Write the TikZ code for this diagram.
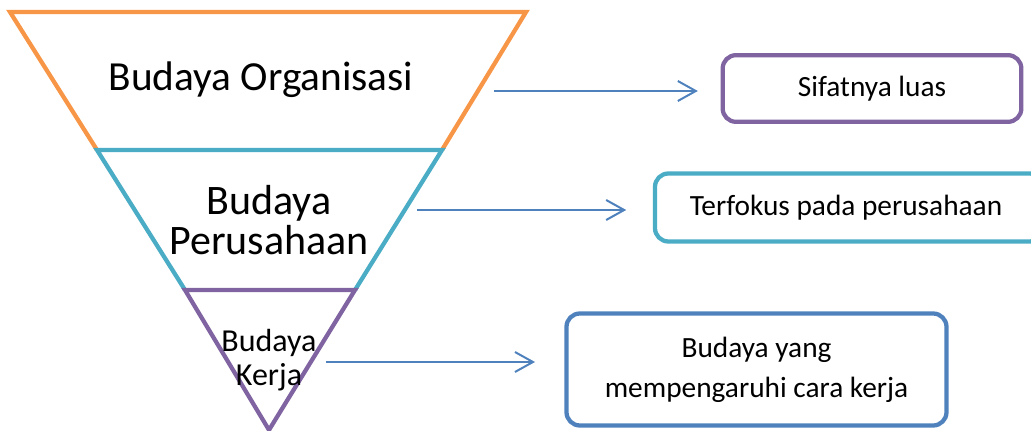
\documentclass[tikz,border=0pt]{standalone}
\usepackage{fontspec}
\setmainfont{Carlito}
\usetikzlibrary{arrows.meta}
\definecolor{oranye}{HTML}{F79646}
\definecolor{tosca}{HTML}{4BACC6}
\definecolor{ungu}{HTML}{8064A2}
\definecolor{biru}{HTML}{4F81BD}
\tikzset{
	tier/.style={line width=3.2pt,line join=miter},
	ket/.style={draw,line width=3.2pt,rounded corners=10pt,align=center},
	panah/.style={biru,line width=1.5pt,-{Straight Barb[length=13.5pt,width=15pt,line width=1.5pt]}}
}
\begin{document}
\begin{tikzpicture}[x=0.75pt,y=-0.75pt]
		\useasboundingbox (0,0) rectangle (1031,431);
		% lapisan piramida terbalik
		\draw[tier,oranye] (97,150) -- (10,12) -- (526,12) -- (442,150);
		\draw[tier,tosca] (185,290) -- (97,150) -- (442,150) -- (355,290);
		\draw[tier,ungu] (185,290) -- (355,290) -- (269,430) -- cycle;
		\node[font=\fontsize{31}{35}\selectfont] (org) at (261,80) {Budaya Organisasi};
		\node[font=\fontsize{31.5}{30}\selectfont,align=center] (prs) at (269,220) {Budaya\\Perusahaan};
		\node[font=\fontsize{24}{26}\selectfont,align=center] (krj) at (269,360) {Budaya\\Kerja};
		% keterangan
		\node[ket,ungu,minimum width=224pt,minimum height=50pt,text=black,font=\fontsize{22}{26}\selectfont] (k1) at (872,88.5) {Sifatnya luas};
		\node[ket,tosca,minimum width=291pt,minimum height=51pt] (k2) at (849,207.5) {};
		\node[font=\fontsize{22}{26}\selectfont] (t2) at (846,208) {Terfokus pada perusahaan};
		\node[ket,biru,minimum width=285pt,minimum height=84pt,text=black,font=\fontsize{22}{30}\selectfont] (k3) at (756.5,369.5) {Budaya yang\\mempengaruhi cara kerja};
		% panah
		\coordinate (a1) at (494,91);
		\coordinate (a2) at (417,210);
		\coordinate (a3) at (326,362);
		\draw[panah,shorten >=17pt] (a1) -- (a1 -| k1.west);
		\draw[panah,shorten >=20pt] (a2) -- (a2 -| k2.west);
		\draw[panah,shorten >=22pt] (a3) -- (a3 -| k3.west);
	\end{tikzpicture}
\end{document}
